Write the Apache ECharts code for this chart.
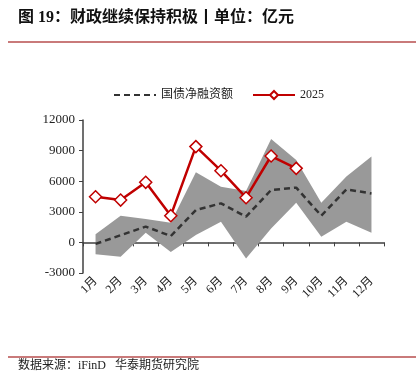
<!DOCTYPE html>
<html>
<head>
<meta charset="utf-8">
<script src="https://cdn.jsdelivr.net/npm/echarts@6/dist/echarts.min.js"></script>
<style>html,body{margin:0;padding:0;background:#fff;}#c{width:416px;height:374px;}</style>
</head>
<body>
<div id="c"></div>
<script>
var categories = ['1月','2月','3月','4月','5月','6月','7月','8月','9月','10月','11月','12月'];
var netFinancing = [-150, 700, 1550, 620, 3170, 3830, 2520, 5140, 5370, 2620, 5200, 4800];
var y2025 = [4480, 4150, 5890, 2620, 9390, 7030, 4380, 8470, 7260];
var bandLower = [-1150, -1400, 950, -950, 720, 2030, -1570, 1370, 3890, 560, 2030, 950];
var bandUpper = [790, 2620, 2290, 1930, 6870, 5460, 5040, 10140, 8080, 3890, 6450, 8410];
var yTicks = [-3000, 0, 3000, 6000, 9000, 12000];

var bandDiff = bandUpper.map(function (v, i) { return v - bandLower[i]; });
var serif = "'Liberation Serif', 'Noto Sans CJK SC', serif";
var axisColor = '#404040';

var chart = echarts.init(document.getElementById('c'), null, {renderer: 'canvas'});
chart.setOption({
  animation: false,
  backgroundColor: '#fff',
  graphic: [
    {type: 'text', left: 18, top: 10, style: {text: '图 19：财政继续保持积极丨单位：亿元', font: "bold 16px 'Liberation Serif', 'Noto Sans CJK SC'", fill: '#111'}},
    {type: 'rect', shape: {x: 8, y: 41, width: 408, height: 2}, style: {fill: '#c97a7a'}},
    {type: 'rect', shape: {x: 8, y: 356, width: 408, height: 2}, style: {fill: '#c97a7a'}},
    {type: 'text', left: 18, top: 360, style: {text: '数据来源：iFinD   华泰期货研究院', font: "12px 'Liberation Serif', 'Noto Sans CJK SC'", fill: '#222'}}
  ],
  legend: {
    data: [{name: '国债净融资额', itemStyle: {opacity: 0}}, '2025'],
    left: 108, top: 84,
    itemWidth: 42, itemHeight: 10, itemGap: 19,
    textStyle: {fontFamily: serif, fontSize: 12, color: '#222'}
  },
  grid: {left: 83, right: 32, top: 120, bottom: 101},
  xAxis: {
    type: 'category', data: categories, boundaryGap: true,
    axisLine: {lineStyle: {color: axisColor, width: 1.5}},
    axisTick: {show: true, lineStyle: {color: axisColor}, length: 4, inside: false},
    axisLabel: {rotate: 45, fontFamily: serif, fontSize: 12, color: '#222', margin: 6}
  },
  yAxis: {
    type: 'value', min: -3000, max: 12000, interval: 3000,
    axisLine: {show: true, lineStyle: {color: axisColor, width: 1.5}},
    axisTick: {show: true, lineStyle: {color: axisColor}, length: 4},
    splitLine: {show: false},
    axisLabel: {fontFamily: serif, fontSize: 13, color: '#222', margin: 8,
      formatter: function (v) { return yTicks.indexOf(v) >= 0 ? String(v) : ''; }}
  },
  series: [
    {name: 'bandLower', type: 'line', stack: 'band', stackStrategy: 'all', data: bandLower,
      symbol: 'none', lineStyle: {opacity: 0}, areaStyle: {opacity: 0}, silent: true, z: 1},
    {name: 'band', type: 'line', stack: 'band', stackStrategy: 'all', data: bandDiff,
      symbol: 'none', lineStyle: {opacity: 0}, areaStyle: {color: '#999999', opacity: 1}, silent: true, z: 1},
    {name: '国债净融资额', type: 'line', data: netFinancing, symbol: 'none',
      lineStyle: {color: '#333333', width: 2.5, type: [6, 4]}, itemStyle: {color: '#333333'}, z: 3},
    {name: '2025', type: 'line', data: y2025, symbol: 'diamond', symbolSize: 12,
      lineStyle: {color: '#c00000', width: 2.5}, itemStyle: {color: '#ffffff', borderColor: '#c00000', borderWidth: 1.5}, z: 4}
  ]
});
</script>
</body>
</html>
